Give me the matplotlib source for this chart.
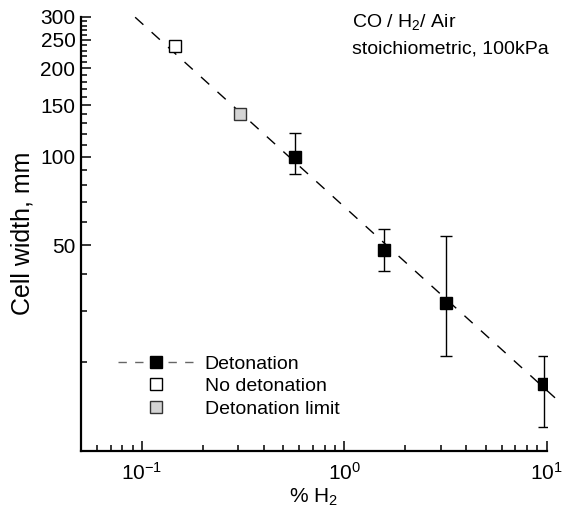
import numpy as np
from matplotlib import pyplot as plt
from matplotlib.ticker import FixedLocator, NullFormatter, FixedFormatter

plt.rcParams['font.family'] = ['Liberation Sans', 'DejaVu Sans']
plt.rcParams['mathtext.fontset'] = 'custom'
plt.rcParams['mathtext.rm'] = 'Liberation Sans'
plt.rcParams['mathtext.it'] = 'Liberation Sans:italic'
plt.rcParams['mathtext.default'] = 'regular'

# detonation points with error bars
det_x = [0.571, 1.58, 3.20, 9.74]
det_y = [100.0, 48.2, 31.9, 16.9]
det_hi = [120.3, 56.8, 53.9, 21.05]
det_lo = [87.3, 40.9, 21.05, 12.0]

nodet_x = [0.1456]
nodet_y = [239.0]

limit_x = [0.305]
limit_y = [139.6]

# power-law fit drawn across the plot
fit_x = [0.0926, 11.3]
fit_y = [298.7, 14.9]

y_major = [50, 100, 150, 200, 250, 300]
y_minor = [20, 30, 40, 60, 70, 80, 90, 110, 120, 130, 140, 160, 170, 180, 190,
           210, 220, 230, 240, 260, 270, 280, 290]
x_major = [0.1, 1, 10]
x_labels = ['$10^{-1}$', '$10^{0}$', '$10^{1}$']
x_minor = [0.06, 0.07, 0.08, 0.09, 0.2, 0.3, 0.4, 0.5, 0.6, 0.7, 0.8, 0.9,
           2, 3, 4, 5, 6, 7, 8, 9]

fig = plt.figure(figsize=(5.73, 5.14), dpi=100)
ax = fig.add_axes([81 / 573, 1 - 450.7 / 514, 465.5 / 573, 434 / 514])
ax.set_xscale('log')
ax.set_yscale('log')
ax.set_xlim(0.05, 10)
ax.set_ylim(10, 300)

ax.plot(fit_x, fit_y, color='black', lw=1, linestyle=(0, (8, 8)), clip_on=False, zorder=2)

yerr = [np.array(det_y) - np.array(det_lo), np.array(det_hi) - np.array(det_y)]
eb = ax.errorbar(det_x, det_y, yerr=yerr, fmt='none', ecolor='black', elinewidth=1,
                 capsize=4.3, capthick=1, zorder=3)
for cap in eb[1]:
    cap.set_color('0.35')
ax.plot(det_x, det_y, 's', color='black', ms=8.6, mec='black', zorder=4)
ax.plot(nodet_x, nodet_y, 's', color='white', ms=8.6, mec='black', mew=1, zorder=4)
ax.plot(limit_x, limit_y, 's', color='#d4d4d4', ms=8.6, mec='#333333', mew=1, zorder=4)

# legend handles
h1, = ax.plot([], [], color='0.4', lw=1, linestyle=(0, (6, 6)), marker='s', ms=8.6,
              mfc='black', mec='black')
h2, = ax.plot([], [], 's', color='white', ms=8.6, mec='black', mew=1)
h3, = ax.plot([], [], 's', color='#d4d4d4', ms=8.6, mec='#333333', mew=1)
ax.legend([h1, h2, h3], ['Detonation', 'No detonation', 'Detonation limit'],
          loc='upper left', bbox_to_anchor=((118 - 81) / 465.5, (450.7 - 355) / 434),
          frameon=False, fontsize=14, numpoints=1, handlelength=3.9,
          handletextpad=0.55, labelspacing=0.25, borderpad=0, borderaxespad=0)

ax.yaxis.set_major_locator(FixedLocator(y_major))
ax.yaxis.set_major_formatter(FixedFormatter([str(v) for v in y_major]))
ax.yaxis.set_minor_locator(FixedLocator(y_minor))
ax.yaxis.set_minor_formatter(NullFormatter())
ax.xaxis.set_major_locator(FixedLocator(x_major))
ax.xaxis.set_major_formatter(FixedFormatter(x_labels))
ax.xaxis.set_minor_locator(FixedLocator(x_minor))
ax.xaxis.set_minor_formatter(NullFormatter())

ax.spines['top'].set_visible(False)
ax.spines['right'].set_visible(False)
ax.spines['left'].set_linewidth(1.6)
ax.spines['bottom'].set_linewidth(1.6)
ax.tick_params(which='both', direction='in', width=1.1, labelsize=15)
ax.tick_params(which='major', length=7.5)
ax.tick_params(which='minor', length=4)
ax.tick_params(axis='y', pad=4)
ax.tick_params(axis='x', pad=8)

ax.set_ylabel('Cell width, mm', fontsize=18, labelpad=4)
ax.set_xlabel('% H$_2$', fontsize=15, labelpad=2)

fig.text(352 / 573, 1 - 27 / 514, 'CO / H$_2$/ Air', fontsize=14, va='baseline')
fig.text(352 / 573, 1 - 53 / 514, 'stoichiometric, 100kPa', fontsize=14, va='baseline')

fig.savefig('out.png', dpi=100)
